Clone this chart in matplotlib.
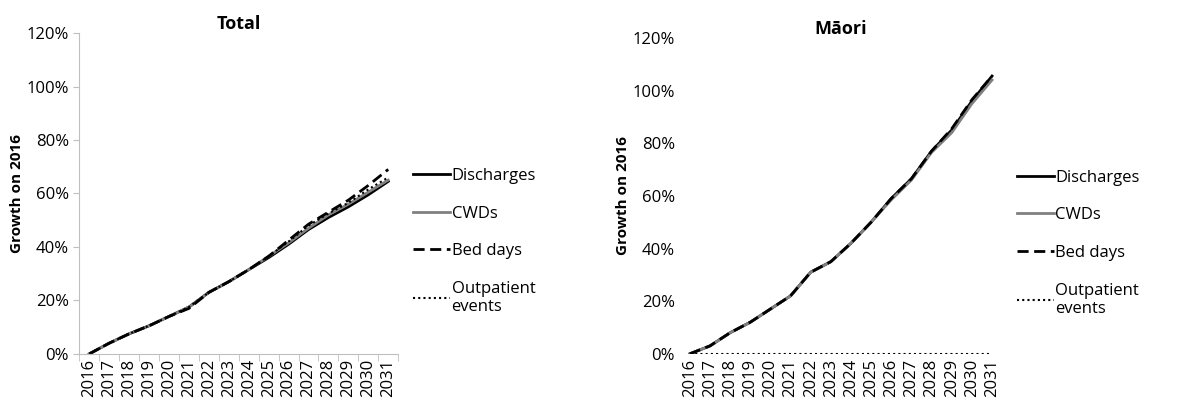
import matplotlib.pyplot as plt
from matplotlib.ticker import PercentFormatter

plt.rcParams['font.family'] = ['Open Sans', 'DejaVu Sans']

years = [str(y) for y in range(2016, 2032)]

total_discharges = [0, 4, 7.5, 10.5, 14, 17.5, 23, 27, 31.5, 36, 41, 46.5, 51, 55, 59.5, 64.5]
total_cwds = [0, 4, 7.5, 10.5, 14, 17.5, 23, 27, 31.5, 36.5, 41.5, 47, 52, 56, 60.5, 65]
total_bed_days = [0, 4, 7.5, 10.5, 14, 17, 23, 27, 31.5, 36.5, 42.5, 48.5, 53, 57.5, 63, 69]
total_outpatient = [0, 4, 7.5, 10.5, 14, 17.5, 23, 27, 31.5, 36.5, 42, 48, 52.5, 56.5, 61.5, 66]

maori_discharges = [0, 3, 8, 12, 17, 22, 31, 35, 42, 50, 59, 66.5, 77, 85, 96, 105.5]
maori_cwds = [0, 3, 8, 12, 17, 22, 31, 35, 42, 50, 58.5, 66, 76.5, 84, 95, 104]
maori_bed_days = [0, 3, 8, 12, 17, 22, 31, 35, 42, 50, 59, 66.5, 77, 85.5, 96.5, 105.5]
maori_outpatient = [0] * 16

labels = ['Discharges', 'CWDs', 'Bed days', 'Outpatient\nevents']
styles = [dict(color='black', ls='-', lw=2),
          dict(color='#808080', ls='-', lw=2),
          dict(color='black', ls=(0, (4, 2)), lw=2),
          dict(color='black', ls=(0, (1, 1.5)), lw=1.5)]

fig = plt.figure(figsize=(12.03, 4.03), dpi=100)
ax1 = fig.add_axes([0.066, 0.122, 0.265, 0.796])
ax2 = fig.add_axes([0.565, 0.122, 0.268, 0.784])

panels = [
    (ax1, 'Total', [total_discharges, total_cwds, total_bed_days, total_outpatient], True),
    (ax2, 'Māori', [maori_discharges, maori_cwds, maori_bed_days, maori_outpatient], False),
]

for ax, title, series, spines in panels:
    x = list(range(len(years)))
    for s, lab, st in zip(series, labels, styles):
        ax.plot(x, s, label=lab, **st)
    ax.set_xlim(-0.5, len(years) - 0.5)
    ax.set_ylim(0, 120)
    ax.set_yticks(range(0, 121, 20))
    ax.yaxis.set_major_formatter(PercentFormatter(decimals=0))
    ax.set_xticks(x)
    ax.set_xticklabels(years, rotation=90, fontsize=12)
    ax.tick_params(axis='y', labelsize=12, length=0 if not spines else 4, color='#bfbfbf')
    ax.set_ylabel('Growth on 2016', fontsize=11, fontweight='bold', labelpad=2)
    ax.set_title(title, fontsize=13, fontweight='bold', pad=2)
    for sp in ['top', 'right']:
        ax.spines[sp].set_visible(False)
    if spines:
        ax.spines['left'].set_color('#bfbfbf')
        ax.spines['bottom'].set_color('#bfbfbf')
        ax.set_xticks([i - 0.5 for i in range(len(years) + 1)], minor=True)
        ax.tick_params(axis='x', which='major', length=0)
        ax.tick_params(axis='x', which='minor', length=5, color='#bfbfbf')
    else:
        ax.spines['left'].set_visible(False)
        ax.spines['bottom'].set_visible(False)
        ax.tick_params(axis='x', length=0)
    ax.legend(loc='center left', bbox_to_anchor=(1.0, 0.35), frameon=False,
              fontsize=12, handlelength=2.2, handletextpad=0.1, labelspacing=1.3)

fig.savefig('out.png', dpi=100)
